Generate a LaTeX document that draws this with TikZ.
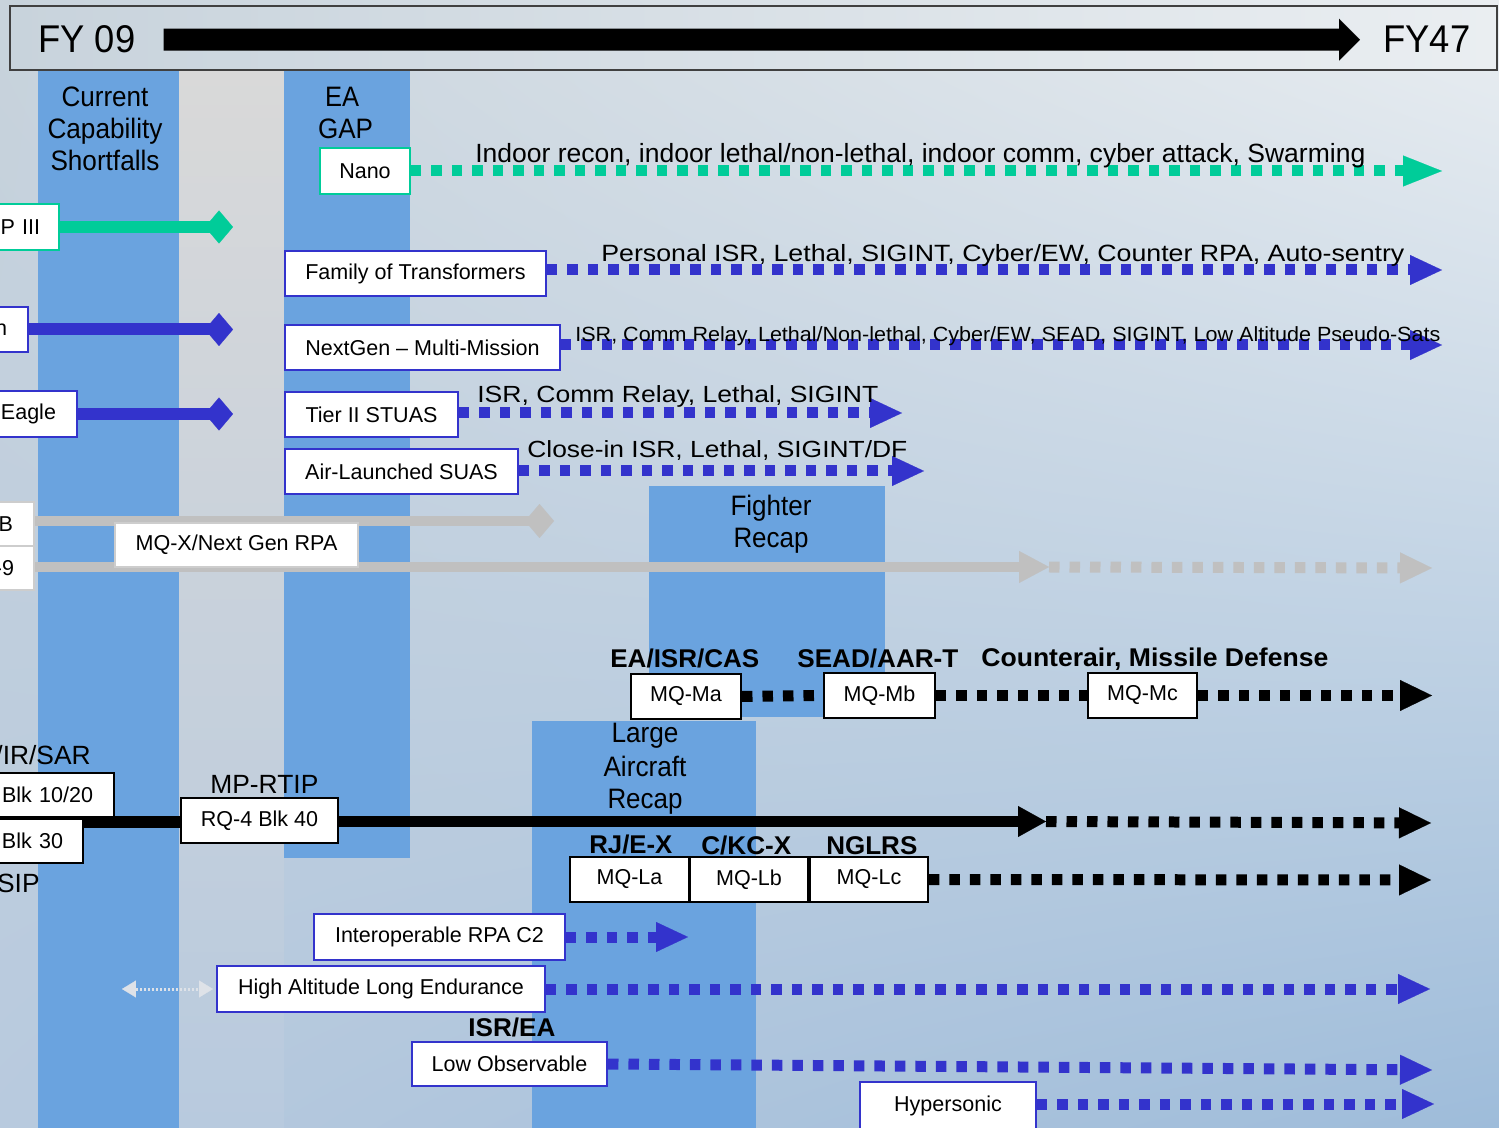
\documentclass[tikz,border=0pt]{standalone}
\usepackage{fontspec}
\usepackage{graphicx}
\setmainfont{Liberation Sans}
\usetikzlibrary{arrows.meta,shadings}
\newlength\pxu
\setlength\pxu{0.02cm}
\newcommand\fitw[2]{\resizebox{#1\pxu}{\height}{#2}}
\definecolor{colblue}{RGB}{106,163,223}
\definecolor{lineblue}{RGB}{51,51,204}
\definecolor{linegreen}{RGB}{0,204,153}
\definecolor{linegray}{RGB}{192,192,192}
\definecolor{boxgray}{RGB}{205,205,205}
\definecolor{hdrborder}{RGB}{64,64,64}
\definecolor{bgul}{RGB}{200,211,220}
\definecolor{bgur}{RGB}{234,238,241}
\definecolor{bgll}{RGB}{184,202,222}
\definecolor{bglr}{RGB}{158,188,218}
\definecolor{stripgray}{RGB}{217,217,217}
\definecolor{palearrow}{RGB}{222,226,232}
\pgfdeclarelayer{back}
\pgfdeclarelayer{lines}
\pgfdeclarelayer{front}
\pgfsetlayers{back,lines,main,front}
\tikzset{
  box/.style={draw, fill=white, line width=0.04cm, rectangle, inner sep=0pt, font=\fontsize{12.25}{14}\selectfont},
  bluebox/.style={box, draw=lineblue},
  greenbox/.style={box, draw=linegreen},
  blackbox/.style={box, draw=black},
  graybox/.style={box, draw=boxgray},
  clipbox/.style={align=right, text width=2cm, anchor=east},
  txt/.style={inner sep=0pt, anchor=base},
  annot/.style={txt, anchor=base west},
  colfont/.style={font=\fontsize{16}{19}\selectfont},
  boldlab/.style={annot, font=\bfseries\fontsize{14.6}{17}\selectfont},
  dotpat/.style={line width=0.22cm, dash pattern=on 0.21cm off 0.2cm},
  solidbar/.style={line width=0.24cm},
  bluetip/.style={-{Triangle[length=0.64cm,width=0.6cm,line width=0.1pt]}},
  bluedot/.style={dotpat, color=lineblue, bluetip},
  greendot/.style={dotpat, color=linegreen, -{Triangle[length=0.78cm,width=0.62cm,line width=0.1pt]}},
  blackdot/.style={dotpat, color=black},
  blacktipdot/.style={blackdot, -{Triangle[length=0.64cm,width=0.62cm,line width=0.1pt]}},
  diamondend/.style={-{Diamond[length=0.56cm,width=0.66cm,line width=0.1pt]}},
  grayline/.style={line width=0.22cm, color=linegray},
  graydot/.style={dotpat, color=linegray, -{Triangle[length=0.64cm,width=0.62cm,line width=0.1pt]}},
}
\begin{document}
\begin{tikzpicture}[x=0.02cm, y=-0.02cm]
\useasboundingbox (0,0) rectangle (1499,1128);

% ---------------- background layer ----------------
\begin{pgfonlayer}{back}
\shade[upper left=bgul, upper right=bgur, lower left=bgll, lower right=bglr] (0,0) rectangle (1499,1128);
\shade[top color=stripgray, bottom color=bgll] (179,70) rectangle (284,1128);
\fill[colblue] (38,70) rectangle (179,1128);
\fill[colblue] (284,70) rectangle (410,858);
\fill[colblue] (649,486) rectangle (885,717);
\fill[colblue] (532,721) rectangle (756,1128);
\node[draw=hdrborder, line width=0.04cm, minimum width=29.74cm, minimum height=1.28cm,
      inner sep=0pt, left color=bgul, right color=bgur] (hdr) at (753.5,38) {};
\end{pgfonlayer}

% ---------------- header ----------------
\node[annot, font=\fontsize{22}{26}\selectfont] (fy09) at (38,53) {\fitw{97}{FY 09}};
\node[annot, font=\fontsize{22}{26}\selectfont] (fy47) at (1383,53) {\fitw{87}{FY47}};

% ---------------- boxes ----------------
\node[greenbox, minimum width=1.8cm, minimum height=0.92cm] (nano) at (365,171) {Nano};
\node[greenbox, clipbox, inner xsep=0.38cm, minimum height=0.92cm] (gp3) at (60,227) {SP III};
\node[bluebox, minimum width=5.22cm, minimum height=0.9cm] (fot) at (415.5,273.5) {Family of Transformers};
\node[bluebox, clipbox, inner xsep=0.42cm, minimum height=0.9cm] (nbox) at (29,329.5) {n};
\node[bluebox, minimum width=5.5cm, minimum height=0.9cm] (ngmm) at (422.5,347.5) {NextGen – Multi-Mission};
\node[bluebox, clipbox, inner xsep=0.42cm, minimum height=0.92cm] (eagle) at (78,414) {Eagle};
\node[bluebox, minimum width=3.46cm, minimum height=0.9cm] (tier2) at (371.5,414.5) {Tier II STUAS};
\node[bluebox, minimum width=4.66cm, minimum height=0.9cm] (als) at (401.5,471.5) {Air-Launched SUAS};
\node[graybox, clipbox, inner xsep=0.42cm, minimum height=0.88cm] (bbox) at (35,524) {B};
\node[graybox, clipbox, inner xsep=0.4cm, minimum height=0.88cm] (m9box) at (35,568) {-9};
\node[graybox, minimum width=4.86cm, minimum height=0.88cm] (mqx) at (236.5,545) {MQ-X/Next Gen RPA};
\node[blackbox, minimum width=2.2cm, minimum height=0.9cm] (mqma) at (686,696.5) {MQ-Ma};
\node[blackbox, minimum width=2.22cm, minimum height=0.9cm] (mqmb) at (879.5,695.5) {MQ-Mb};
\node[blackbox, minimum width=2.18cm, minimum height=0.9cm] (mqmc) at (1142.5,695.5) {MQ-Mc};
\node[blackbox, clipbox, inner xsep=0.42cm, minimum height=0.88cm] (blk1) at (115,795) {Blk 10/20};
\node[blackbox, clipbox, inner xsep=0.4cm, minimum height=0.88cm] (blk2) at (84,841) {Blk 30};
\node[blackbox, minimum width=3.14cm, minimum height=0.9cm] (rq4) at (259.5,820.5) {RQ-4 Blk 40};
\node[blackbox, minimum width=2.38cm, minimum height=0.9cm] (mqla) at (629.5,879.5) {MQ-La};
\node[blackbox, minimum width=2.36cm, minimum height=0.9cm] (mqlb) at (749,879.5) {MQ-Lb};
\node[blackbox, minimum width=2.36cm, minimum height=0.9cm] (mqlc) at (869,879.5) {MQ-Lc};
\node[bluebox, minimum width=5.02cm, minimum height=0.92cm] (irc2) at (439.5,937) {Interoperable RPA C2};
\node[bluebox, minimum width=6.56cm, minimum height=0.92cm] (hale) at (381,989) {High Altitude Long Endurance};
\node[bluebox, minimum width=3.9cm, minimum height=0.88cm] (lo) at (509.5,1064) {Low Observable};
\node[bluebox, minimum width=3.52cm, minimum height=0.96cm] (hyp) at (948,1106) {Hypersonic};

% ---------------- free ends ----------------
\coordinate (nanoEnd) at (1442,171);
\coordinate (gp3End) at (233,227);
\coordinate (fotEnd) at (1442,270);
\coordinate (nEnd) at (233,329.5);
\coordinate (ngEnd) at (1442,345);
\coordinate (eagleEnd) at (233,414);
\coordinate (t2End) at (902,413);
\coordinate (alsEnd) at (924,471);
\coordinate (gdEnd) at (554,521);
\coordinate (g1) at (1049,567);
\coordinate (g2) at (1432,568);
\coordinate (mEnd) at (1432,695.5);
\coordinate (bl0) at (0,822);
\coordinate (b1) at (1046,821.5);
\coordinate (b2) at (1431,823);
\coordinate (lEnd) at (1431,880);
\coordinate (icEnd) at (688,937);
\coordinate (haleEnd) at (1430,989);
\coordinate (loEnd) at (1432,1070);
\coordinate (hypEnd) at (1434,1104);
\coordinate (daStart) at (122,989);

% ---------------- connectors ----------------
\begin{pgfonlayer}{lines}
\draw[line width=0.44cm, -{Triangle[length=0.42cm,width=0.84cm,line width=0.1pt]},
      shorten <=0.56cm, shorten >=0.46cm] (fy09.east) -- (fy47.west);
\draw[greendot] (nano.east) -- (nanoEnd);
\draw[solidbar, color=linegreen, diamondend] (gp3.east) -- (gp3End);
\draw[bluedot] (fot.east |- fotEnd) -- (fotEnd);
\draw[solidbar, color=lineblue, diamondend] (nbox.east) -- (nEnd);
\draw[bluedot] (ngmm.east |- ngEnd) -- (ngEnd);
\draw[solidbar, color=lineblue, diamondend] (eagle.east) -- (eagleEnd);
\draw[bluedot] (tier2.east |- t2End) -- (t2End);
\draw[bluedot] (als.east |- alsEnd) -- (alsEnd);
\draw[line width=0.2cm, color=linegray, -{Diamond[length=0.58cm,width=0.68cm,line width=0.1pt]}] (bbox.east |- gdEnd) -- (gdEnd);
\draw[grayline, -{Triangle[length=0.6cm,width=0.64cm,line width=0.1pt]}] (m9box.east |- g1) -- (g1);
\draw[graydot] (g1) -- (g2);
\draw[blackdot] (mqma.east) -- (mqmb.west);
\draw[blackdot] (mqmb.east) -- (mqmc.west);
\draw[blacktipdot] (mqmc.east) -- (mEnd);
\draw[solidbar, color=black] (bl0) -- (rq4.west |- bl0);
\draw[solidbar, color=black, -{Triangle[length=0.56cm,width=0.62cm,line width=0.1pt]}] (rq4.east |- b1) -- (b1);
\draw[blacktipdot] (b1) -- (b2);
\draw[blacktipdot] (mqlc.east) -- (lEnd);
\draw[bluedot] (irc2.east) -- (icEnd);
\draw[bluedot] (hale.east) -- (haleEnd);
\draw[bluedot] (lo.east) -- (loEnd);
\draw[bluedot] (hyp.east |- hypEnd) -- (hypEnd);
\draw[color=palearrow, line width=0.06cm, dash pattern=on 0.05cm off 0.03cm,
      {Triangle[length=0.28cm,width=0.34cm,line width=0.1pt]}-{Triangle[length=0.28cm,width=0.34cm,line width=0.1pt]},
      shorten >=0.06cm] (daStart) -- (hale.west);
\end{pgfonlayer}

% ---------------- texts ----------------
\begin{pgfonlayer}{front}
\node[txt, colfont] (cur1) at (105,107) {\fitw{87}{Current}};
\node[txt, colfont] (cur2) at (105,139) {\fitw{115}{Capability}};
\node[txt, colfont] (cur3) at (105,171) {\fitw{109}{Shortfalls}};
\node[txt, colfont] (ea1) at (342,107) {\fitw{34}{EA}};
\node[txt, colfont] (ea2) at (345.5,139) {\fitw{55}{GAP}};
\node[txt, colfont] (fr1) at (771,516) {\fitw{81}{Fighter}};
\node[txt, colfont] (fr2) at (771,548) {\fitw{75}{Recap}};
\node[txt, colfont] (la1) at (645,743) {\fitw{67}{Large}};
\node[txt, colfont] (la2) at (645,776) {\fitw{83}{Aircraft}};
\node[txt, colfont] (la3) at (645,808) {\fitw{75}{Recap}};

\node[annot, font=\fontsize{15}{18}\selectfont] (indoor) at (475,163)
  {\fitw{890}{Indoor recon, indoor lethal/non-lethal, indoor comm, cyber attack, Swarming}};
\node[annot, font=\fontsize{13.4}{16}\selectfont] (personal) at (601,262)
  {\fitw{803}{Personal ISR, Lethal, SIGINT, Cyber/EW, Counter RPA, Auto-sentry}};
\node[annot, font=\fontsize{11.7}{14}\selectfont] (ngtxt) at (575,342)
  {\fitw{865}{ISR, Comm Relay, Lethal/Non-lethal, Cyber/EW, SEAD, SIGINT, Low Altitude Pseudo-Sats}};
\node[annot, font=\fontsize{13.3}{16}\selectfont] (t2txt) at (477,403)
  {\fitw{401}{ISR, Comm Relay, Lethal, SIGINT}};
\node[annot, font=\fontsize{13.3}{16}\selectfont] (alstxt) at (527,458)
  {\fitw{380}{Close-in ISR, Lethal, SIGINT/DF}};

\node[boldlab] (l1) at (610,668) {\fitw{149}{EA/ISR/CAS}};
\node[boldlab] (l2) at (797,668) {\fitw{161}{SEAD/AAR-T}};
\node[boldlab] (l3) at (981,667) {\fitw{347}{Counterair, Missile Defense}};
\node[boldlab] (l4) at (589,853) {\fitw{83}{RJ/E-X}};
\node[boldlab] (l5) at (701,854) {\fitw{90}{C/KC-X}};
\node[boldlab] (l6) at (826,854) {\fitw{91}{NGLRS}};
\node[boldlab] (l7) at (468,1036) {\fitw{87}{ISR/EA}};

\node[txt, anchor=base east, font=\fontsize{15}{18}\selectfont] (irsar) at (91,765) {/IR/SAR};
\node[annot, font=\fontsize{15}{18}\selectfont] (mprtip) at (210,793) {\fitw{108}{MP-RTIP}};
\node[txt, anchor=base east, font=\fontsize{15}{18}\selectfont] (sip) at (40,892) {SIP};
\end{pgfonlayer}
\end{tikzpicture}
\end{document}
